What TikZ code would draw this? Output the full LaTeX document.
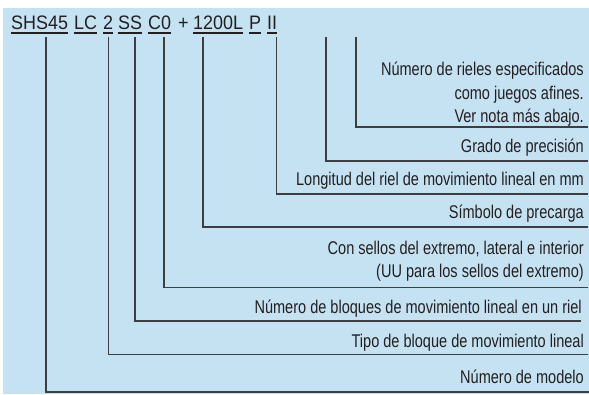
\documentclass[tikz,border=0pt]{standalone}
\usepackage{fontspec}
\newfontfamily\codefont[FakeStretch=0.92]{Liberation Sans}
\newfontfamily\notefont[FakeStretch=0.79]{Liberation Sans}
\usetikzlibrary{positioning}
\definecolor{panelblue}{RGB}{197,226,243}
\definecolor{inkgray}{RGB}{35,31,32}
\definecolor{leadgray}{RGB}{62,62,66}
\tikzset{
    codepart/.style={font=\codefont\fontsize{19.5}{22}\selectfont, text=inkgray,
        inner sep=0pt, anchor=base west},
    notetext/.style={font=\notefont\fontsize{18.4}{23}\selectfont, text=inkgray,
        inner sep=0pt, anchor=base east},
    leader/.style={draw=leadgray, line width=1.2pt},
    uline/.style={draw=inkgray, line width=1.2pt}
}

\begin{document}
\begin{tikzpicture}[x=1pt, y=-1pt]
\useasboundingbox (0,0) rectangle (589,394);
\fill[panelblue] (3,8) rectangle (589,394);

% part number
\node[codepart] (shs) at (11,29) {SHS45};
\node[codepart] (lc) at (74,29) {LC};
\node[codepart] (blocks) at (103,29) {2};
\node[codepart] (seal) at (118,29) {SS};
\node[codepart] (clear) at (148,29) {C0};
\node[codepart] (plus) at (178,29) {+};
\node[codepart] (rail) at (193,29) {1200L};
\node[codepart] (prec) at (249,29) {P};
\node[codepart] (pairs) at (267,29) {II};
\draw[uline] ([yshift=-4pt]shs.base west) -- ([yshift=-4pt]shs.base east);
\draw[uline] ([yshift=-4pt]lc.base west) -- ([yshift=-4pt]lc.base east);
\draw[uline] ([yshift=-4pt]blocks.base west) -- ([yshift=-4pt]blocks.base east);
\draw[uline] ([yshift=-4pt]seal.base west) -- ([yshift=-4pt]seal.base east);
\draw[uline] ([yshift=-4pt]clear.base west) -- ([yshift=-4pt]clear.base east);
\draw[uline] ([yshift=-4pt]rail.base west) -- ([yshift=-4pt]rail.base east);
\draw[uline] ([yshift=-4pt]prec.base west) -- ([yshift=-4pt]prec.base east);
\draw[uline] ([yshift=-4pt]pairs.base west) -- ([yshift=-4pt]pairs.base east);

% explanations
\node[notetext] (rieles1) at (584,75) {Número de rieles especificados};
\node[notetext] (rieles2) at (584,99) {como juegos afines.};
\node[notetext] (rieles3) at (584,122) {Ver nota más abajo.};
\node[notetext] (grado) at (584,152) {Grado de precisión};
\node[notetext] (longitud) at (584,185) {Longitud del riel de movimiento lineal en mm};
\node[notetext] (precarga) at (584,218) {Símbolo de precarga};
\node[notetext] (sellos1) at (584,254) {Con sellos del extremo, lateral e interior};
\node[notetext] (sellos2) at (584,277) {(UU para los sellos del extremo)};
\node[notetext] (bloques) at (582,313) {Número de bloques de movimiento lineal en un riel};
\node[notetext] (tipo) at (584,347) {Tipo de bloque de movimiento lineal};
\node[notetext] (modelo) at (584,383) {Número de modelo};

\coordinate (rieles-top) at (356,37);
\coordinate (grado-top) at (326,37);
\coordinate (rieles-end) at (588,127);
\coordinate (grado-end) at (588,161);
\coordinate (longitud-end) at (588,194);
\coordinate (precarga-end) at (588,227);
\coordinate (sellos-end) at (588,287.5);
\coordinate (bloques-end) at (581,321);
\coordinate (tipo-end) at (588,354.5);
\coordinate (modelo-end) at (589,392);

% leaders
\draw[leader] (rieles-top) |- (rieles-end);
\draw[leader] (grado-top) |- (grado-end);
\draw[leader] ([xshift=-0.6pt,yshift=-8pt]pairs.base east) |- (longitud-end);
\draw[leader] ([xshift=10pt,yshift=-8pt]rail.base west) |- (precarga-end);
\draw[leader] ([xshift=16pt,yshift=-8pt]clear.base west) |- (sellos-end);
\draw[leader] ([xshift=17pt,yshift=-8pt]seal.base west) |- (bloques-end);
\draw[leader] ([yshift=-8pt]blocks.base) |- (tipo-end);
\draw[leader, line width=1.6pt] ([xshift=35pt,yshift=-8pt]shs.base west) |- (modelo-end);
\end{tikzpicture}
\end{document}
